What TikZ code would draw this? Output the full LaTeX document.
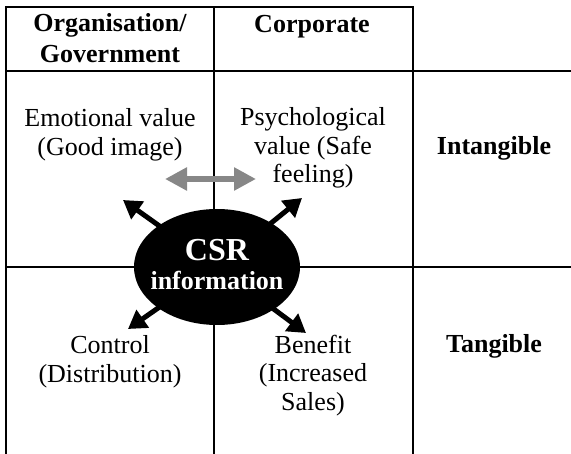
\documentclass[tikz,border=0pt]{standalone}
\usepackage{fontspec}
\setmainfont{Liberation Serif}
\usetikzlibrary{shapes.geometric,arrows.meta}

\definecolor{arrowgray}{RGB}{135,135,135}

\tikzstyle{cell}=[align=center, inner sep=0pt, font=\fontsize{26}{28.5}\selectfont]
\tikzstyle{head}=[align=center, inner sep=0pt, font=\fontsize{26}{31}\selectfont\bfseries]
\tikzstyle{csrval}=[ellipse, fill=black, minimum width=166pt, minimum height=116pt, inner sep=0pt]
\tikzstyle{csrtext}=[text=white, inner sep=0pt, align=center, font=\fontsize{26}{29}\selectfont\bfseries]
\tikzstyle{outarrow}=[line width=5pt, -{Triangle[length=18pt,width=21pt]}]
\tikzstyle{linkarrow}=[arrowgray, line width=6pt, {Triangle[length=22pt,width=22pt]}-{Triangle[length=22pt,width=22pt]}]

\begin{document}
\begin{tikzpicture}[x=1pt,y=-1pt]
\useasboundingbox (0,0) rectangle (571,454);

\draw[line width=1.6pt] (6,454) -- (6,7) -- (413,7) -- (413,454);
\draw[line width=1.6pt] (214,7) -- (214,454);
\draw[line width=1.6pt] (6,71) -- (571,71);
\draw[line width=1.6pt] (6,267) -- (571,267);

\node[head] (org) at (110,38.5) {Organisation/\\Government};
\node[head, anchor=base] (corp) at (312,33) {Corporate};
\node[cell] (emo) at (110,135) {Emotional value\\(Good image)};
\node[cell] (psy) at (313,148) {Psychological\\value (Safe\\feeling)};
\node[head, anchor=base] (intang) at (494,155) {Intangible};
\node[cell] (ctrl) at (110,361.5) {Control\\(Distribution)};
\node[cell] (ben) at (313,375.5) {Benefit\\(Increased\\Sales)};
\node[head, anchor=base] (tang) at (494,353) {Tangible};

\coordinate (gl) at (165,179);
\coordinate (gr) at (256,179);
\draw[linkarrow] (gl) -- (gr);

\node[csrval] (csr) at (217,267) {};
\node[csrtext] (csrt) at (217,265) {\fontsize{32}{32}\selectfont CSR\\information};

\coordinate (ul) at (123,200);
\coordinate (ur) at (302,198);
\coordinate (ll) at (128,329);
\coordinate (lr) at (306,333);
\foreach \t in {ul,ur,ll,lr}
  \draw[outarrow, shorten <=-4pt] (csr) -- (\t);
\end{tikzpicture}
\end{document}
